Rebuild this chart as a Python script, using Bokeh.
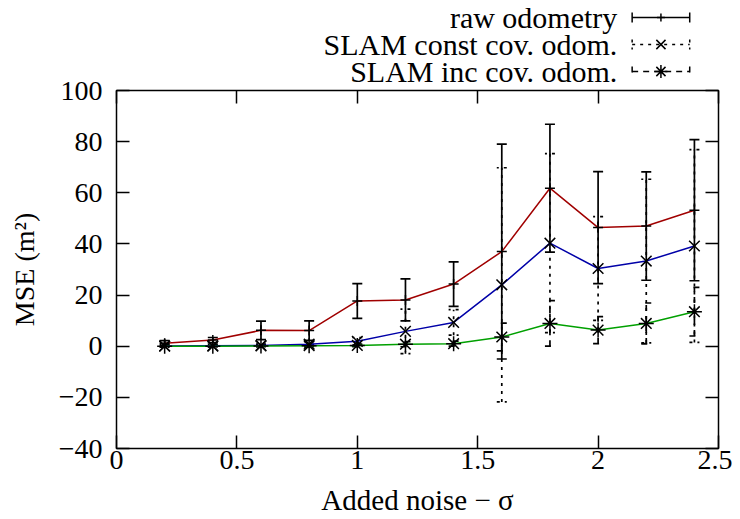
from bokeh.plotting import figure
from bokeh.models import Range1d, LinearAxis, FixedTicker, Whisker, TeeHead, ColumnDataSource
from bokeh.layouts import column
from bokeh.embed import file_html
from bokeh.resources import INLINE
from bokeh.core.properties import value

# ---------------- data ----------------
noise = [0.2, 0.4, 0.6, 0.8, 1.0, 1.2, 1.4, 1.6, 1.8, 2.0, 2.2, 2.4]

raw_mean = [1.2, 2.4, 6.2, 6.1, 17.7, 18.1, 24.3, 37.0, 61.8, 46.4, 47.0, 53.2]
raw_err = [1.0, 1.0, 3.6, 3.8, 6.8, 8.2, 8.7, 42.0, 25.0, 21.9, 21.2, 27.6]

const_mean = [0.1, 0.2, 0.3, 0.8, 1.9, 5.8, 9.3, 24.0, 40.3, 30.4, 33.3, 39.2]
const_err = [0.5, 0.5, 0.5, 1.0, 1.5, 8.7, 5.0, 45.8, 35.0, 20.3, 32.0, 37.7]

inc_mean = [0.0, 0.0, 0.1, 0.2, 0.3, 0.8, 1.0, 3.6, 8.9, 6.3, 8.9, 13.5]
inc_err = [0.3, 0.3, 0.3, 0.5, 0.5, 1.0, 1.0, 5.4, 8.9, 5.3, 8.0, 9.5]

series_names = ["raw odometry", "SLAM const cov. odom.", "SLAM inc cov. odom."]

x_ticks = [0, 0.5, 1, 1.5, 2, 2.5]
x_tick_labels = ["0", "0.5", "1", "1.5", "2", "2.5"]
y_ticks = [-40, -20, 0, 20, 40, 60, 80, 100]
y_tick_labels = ["\u221240", "\u221220", "0", "20", "40", "60", "80", "100"]

# ---------------- style ----------------
FONT = "Liberation Serif"
FS = "28px"
LFS = "30px"
colors = ["#a00000", "#0000a8", "#00a000"]
markers = ["cross", "x", "asterisk"]
msizes = [10, 15, 15]
dashes = ["solid", "3 5", "6 5"]
W = 732
LEG_H = 90
OVERLAP = 20

p = figure(width=W, height=448, x_range=Range1d(0, 2.5), y_range=Range1d(-40, 100),
           output_backend="svg", toolbar_location=None,
           min_border_left=116, min_border_right=14, min_border_top=20, min_border_bottom=70)
p.margin = (-OVERLAP, 0, 0, 0)
p.xgrid.visible = False
p.ygrid.visible = False
p.outline_line_color = "black"
p.outline_line_width = 1.5
p.outline_line_alpha = 1.0
p.background_fill_color = "white"
p.border_fill_color = None

def style_axis(ax, ticks, labels, show_labels=True):
    ax.ticker = FixedTicker(ticks=ticks)
    ax.major_tick_in = 13
    ax.major_tick_out = 0
    ax.minor_tick_in = 0
    ax.minor_tick_out = 0
    ax.axis_line_color = None
    ax.major_tick_line_color = "black"
    ax.major_tick_line_width = 1.5
    ax.major_label_text_font = FONT
    ax.major_label_text_color = "black"
    if show_labels:
        ax.major_label_text_font_size = FS
        ax.major_label_overrides = {t: l for t, l in zip(ticks, labels)}
    else:
        ax.major_label_text_font_size = "1px"
        ax.major_label_overrides = {t: "" for t in ticks}
        ax.major_label_standoff = 0

style_axis(p.xaxis[0], x_ticks, x_tick_labels)
style_axis(p.yaxis[0], y_ticks, y_tick_labels)
p.xaxis[0].major_label_standoff = 2
p.yaxis[0].major_label_standoff = 14

p.xaxis[0].axis_label = "Added noise\u00a0\u2212\u00a0\u03c3"
p.yaxis[0].axis_label = "MSE (m\u00b2)"
for ax in (p.xaxis[0], p.yaxis[0]):
    ax.axis_label_text_font = FONT
    ax.axis_label_text_font_style = "normal"
    ax.axis_label_text_color = "black"
p.xaxis[0].axis_label_text_font_size = "29px"
p.yaxis[0].axis_label_text_font_size = FS
p.xaxis[0].axis_label_standoff = 12
p.yaxis[0].axis_label_standoff = 16

top_ax = LinearAxis()
style_axis(top_ax, x_ticks, x_tick_labels, show_labels=False)
p.add_layout(top_ax, "above")
right_ax = LinearAxis()
style_axis(right_ax, y_ticks, y_tick_labels, show_labels=False)
p.add_layout(right_ax, "right")

all_means = [raw_mean, const_mean, inc_mean]
all_errs = [raw_err, const_err, inc_err]

for mean, err, col, mk, ms, dash in zip(all_means, all_errs, colors, markers, msizes, dashes):
    src = ColumnDataSource(dict(x=noise, y=mean,
                                lo=[m - e for m, e in zip(mean, err)],
                                hi=[m + e for m, e in zip(mean, err)]))
    w = Whisker(source=src, base="x", upper="hi", lower="lo", dimension="height",
                line_color="black", line_width=1.7, line_dash=dash,
                upper_head=TeeHead(size=10, line_color="black", line_width=1.7, line_dash=dash),
                lower_head=TeeHead(size=10, line_color="black", line_width=1.7, line_dash=dash))
    p.add_layout(w)
    p.line("x", "y", source=src, line_color=col, line_width=1.5)
    p.scatter("x", "y", source=src, marker=mk, size=ms, line_color="black", line_width=1.5,
              fill_color=None)

# ---------------- legend (separate strip above, main plot overlaps its bottom) ----------------
lg = figure(width=W, height=LEG_H, x_range=Range1d(0, W), y_range=Range1d(LEG_H, 0),
            output_backend="svg", toolbar_location=None, min_border=0)
lg.axis.visible = False
lg.xgrid.visible = False
lg.ygrid.visible = False
lg.outline_line_color = None
lg.border_fill_color = "white"
lg.background_fill_color = "white"

rows = [17, 44, 71]
tx = 609
x0, x1 = 627, 697
xm = (x0 + x1) / 2
lg.text(x=[tx] * 3, y=rows, text=series_names, text_align="right",
        text_baseline="middle",
        text_font=value(FONT), text_font_size=LFS, text_color="black")
for yy, mk, ms, dash in zip(rows, markers, msizes, dashes):
    lg.segment(x0=[x0], y0=[yy], x1=[x1], y1=[yy], line_color="black", line_width=1.5, line_dash=dash)
    lg.segment(x0=[x0, x1], y0=[yy - 5, yy - 5], x1=[x0, x1], y1=[yy + 5, yy + 5],
               line_color="black", line_width=1.5, line_dash=dash)
    lg.scatter(x=[xm], y=[yy], marker=mk, size=ms - 2, line_color="black", line_width=1.5)

layout = column(lg, p)
open("out.html", "w").write(file_html(layout, INLINE))
